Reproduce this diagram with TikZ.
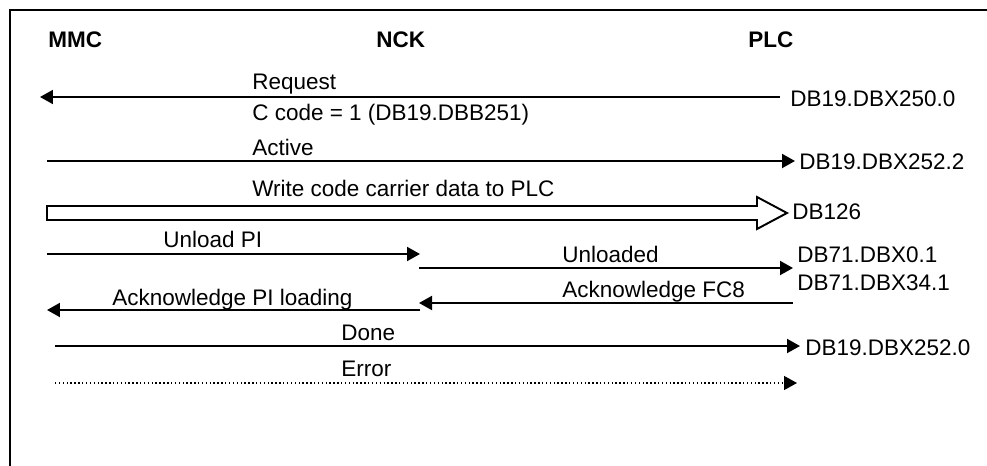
\documentclass[tikz,border=0pt]{standalone}
\usepackage{fontspec}
\setmainfont{Liberation Sans}
\usetikzlibrary{arrows.meta}

\begin{document}
\begin{tikzpicture}[x=0.02cm,y=-0.02cm,
    >={Triangle[length=0.26cm,width=0.28cm]},
    msg/.style={line width=1.15pt},
    hollow/.style={line width=1.1pt},
    font=\fontsize{12.8}{15}\selectfont]
  \useasboundingbox (0,0) rectangle (987,466);
  \draw[line width=1.3pt] (10,466) -- (10,10) -- (987,10);
  \begin{scope}
    \tikzstyle{every node}=[anchor=base west,inner sep=0pt]
  \node (mmc) at (48,48) {\bfseries MMC};
  \node (nck) at (376,48) {\bfseries NCK};
  \node (plc) at (748,48) {\bfseries PLC};
  \node (req)   at (252,90)  {Request};
  \node (ccode) at (252,120) {C code = 1 (DB19.DBB251)};
  \node (act)   at (252,155) {Active};
  \node (wr)    at (252,196) {Write code carrier data to PLC};
  \node (unl)   at (163,247) {Unload PI};
  \node (unld)  at (562,262) {Unloaded};
  \node (ackfc) at (562,297) {Acknowledge FC8};
  \node (ackpi) at (112,305) {Acknowledge PI loading};
  \node (done)  at (341,340) {Done};
  \node (err)   at (341,376) {Error};
  \node (db250)  at (790,107) {DB19.DBX250.0};
  \node (db2522) at (799,170) {DB19.DBX252.2};
  \node (db126)  at (792,219) {DB126};
  \node (db01)   at (797,262) {DB71.DBX0.1};
  \node (db341)  at (797,290) {DB71.DBX34.1};
  \node (db2520) at (805,355) {DB19.DBX252.0};
\end{scope}
  % arrow ends
  \coordinate (req-a) at (780,97);
  \coordinate (req-b) at (40,97);
  \coordinate (act-a) at (47,161);
  \coordinate (act-b) at (795,161);
  \coordinate (wr-a) at (47,213);
  \coordinate (wr-b) at (787,213);
  \coordinate (unl-a) at (47,254);
  \coordinate (unl-b) at (420,254);
  \coordinate (unld-a) at (419,268);
  \coordinate (unld-b) at (793,268);
  \coordinate (ackfc-a) at (793,303);
  \coordinate (ackfc-b) at (419,303);
  \coordinate (ackpi-a) at (420,310);
  \coordinate (ackpi-b) at (47,310);
  \coordinate (done-a) at (55,346);
  \coordinate (done-b) at (800,346);
  \coordinate (err-a) at (55,383);
  \coordinate (err-b) at (797,383);

  \draw[->,msg] (req-a) -- (req-b);
  \draw[->,msg] (act-a) -- (act-b);
  \draw[hollow] (wr-a) ++(0,-7) -- ++(710,0) -- ++(0,-9) -- (wr-b)
    -- ++(-30,16) -- ++(0,-9) -- ++(-710,0) -- cycle;
  \draw[->,msg] (unl-a) -- (unl-b);
  \draw[->,msg] (unld-a) -- (unld-b);
  \draw[->,msg] (ackfc-a) -- (ackfc-b);
  \draw[->,msg] (ackpi-a) -- (ackpi-b);
  \draw[->,msg] (done-a) -- (done-b);
  \draw[->,line width=0.8pt,dash pattern=on 0.8pt off 1.4pt] (err-a) -- (err-b);
\end{tikzpicture}
\end{document}
